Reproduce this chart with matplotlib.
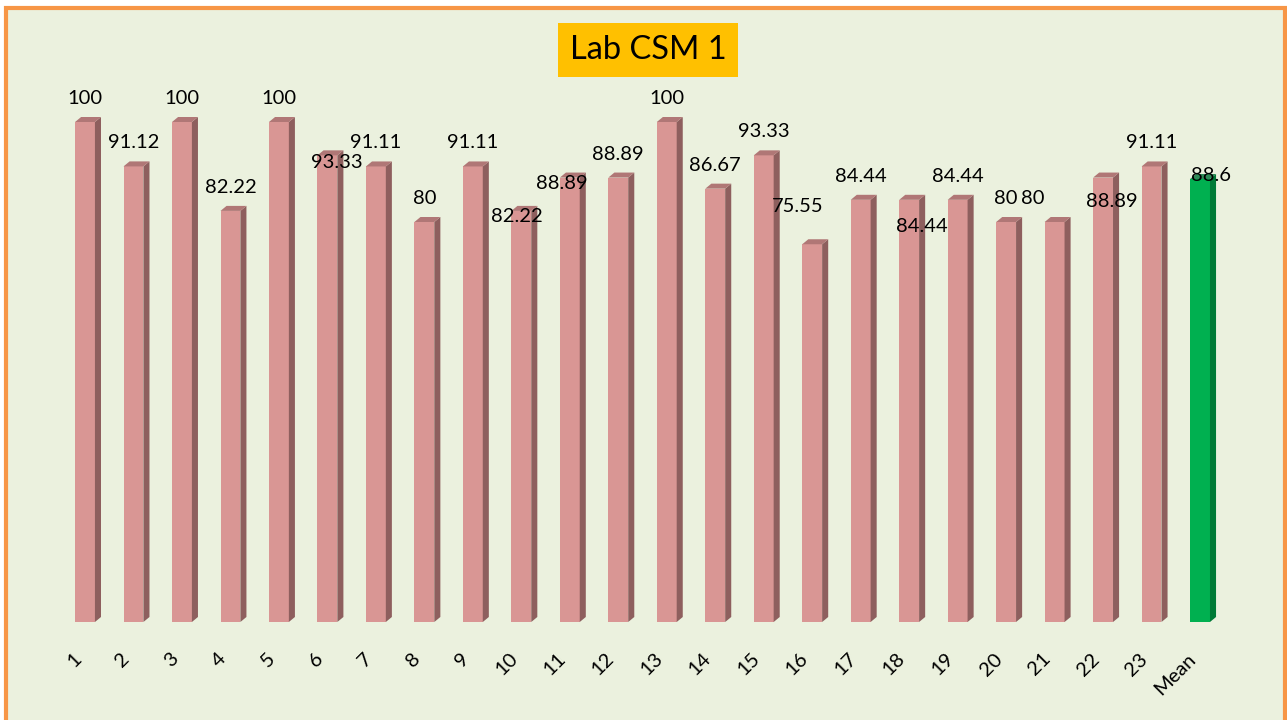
import numpy as np
import matplotlib.pyplot as plt
from matplotlib.patches import Polygon, Rectangle

plt.rcParams['font.family'] = ['Lato', 'DejaVu Sans']

# data
labels = [str(i) for i in range(1, 24)] + ['Mean']
scores = [100, 91.12, 100, 82.22, 100, 93.33, 91.11, 80, 91.11, 82.22, 88.89, 88.89,
          100, 86.67, 93.33, 75.55, 84.44, 84.44, 84.44, 80, 80, 88.89, 91.11, 88.6]
value_text = ['100', '91.12', '100', '82.22', '100', '93.33', '91.11', '80', '91.11', '82.22',
              '88.89', '88.89', '100', '86.67', '93.33', '75.55', '84.44', '84.44', '84.44',
              '80', '80', '88.89', '91.11', '88.6']

# label nudges in pixels (dx, dy) - mimic the hand placed labels
nudge = {5: (9, -31), 9: (-4, -29), 10: (-8, -29), 15: (-15, 14), 17: (13, -50),
         20: (-22, 0), 21: (9, -47), 23: (11, -20)}

front = '#D99694'
side = '#8E5F5E'
top = '#B07776'
gfront = '#00B050'
gside = '#007A37'
gtop = '#2E8B57'

W, H = 1287, 720
fig = plt.figure(figsize=(W / 100, H / 100), dpi=100, facecolor='white')

# chart area with orange frame
frame = Rectangle((6 / W, -0.05), (1285 - 6) / W, 1.05 - 8 / H,
                  transform=fig.transFigure, facecolor='#EBF1DE',
                  edgecolor='#F79646', linewidth=3, zorder=-5)
fig.patches.append(frame)

ax = fig.add_axes([0, 0, 1, 1], zorder=2)
ax.set_facecolor('none')
ax.axis('off')
px = 48.48
ax.set_xlim(-85 / px, (W - 85) / px)
ax.set_ylim(-(H - 622) / 5, 622 / 5)

x = np.arange(len(scores))
w = 0.41
dx, dy = 0.125, 1.0
fc = [front] * 23 + [gfront]
sc = [side] * 23 + [gside]
tc = [top] * 23 + [gtop]

ax.bar(x, scores, width=w, color=fc, zorder=3)
for i, v in enumerate(scores):
    l, r = i - w / 2, i + w / 2
    ax.add_patch(Polygon([(r, 0), (r + dx, dy), (r + dx, v + dy), (r, v)],
                         facecolor=sc[i], edgecolor='none', zorder=3))
    ax.add_patch(Polygon([(l, v), (l + dx, v + dy), (r + dx, v + dy), (r, v)],
                         facecolor=tc[i], edgecolor='none', zorder=3))
    ox, oy = nudge.get(i, (0, 0))
    ax.annotate(value_text[i], (i, v), xytext=(ox, 18 + oy), textcoords='offset pixels',
                ha='center', va='baseline', fontsize=14.5, color='black', zorder=5)

for i, lab in enumerate(labels):
    ax.text(i - 0.14, -6.8, lab, rotation=45, rotation_mode='anchor',
            ha='right', va='center', fontsize=14.5)

fig.text(648 / W, 1 - 50 / H, 'Lab CSM 1', ha='center', va='center', fontsize=23.5,
         zorder=5,
         bbox=dict(boxstyle='square,pad=0.36', facecolor='#FFC000', edgecolor='none'))

fig.savefig('out.png', dpi=100)
